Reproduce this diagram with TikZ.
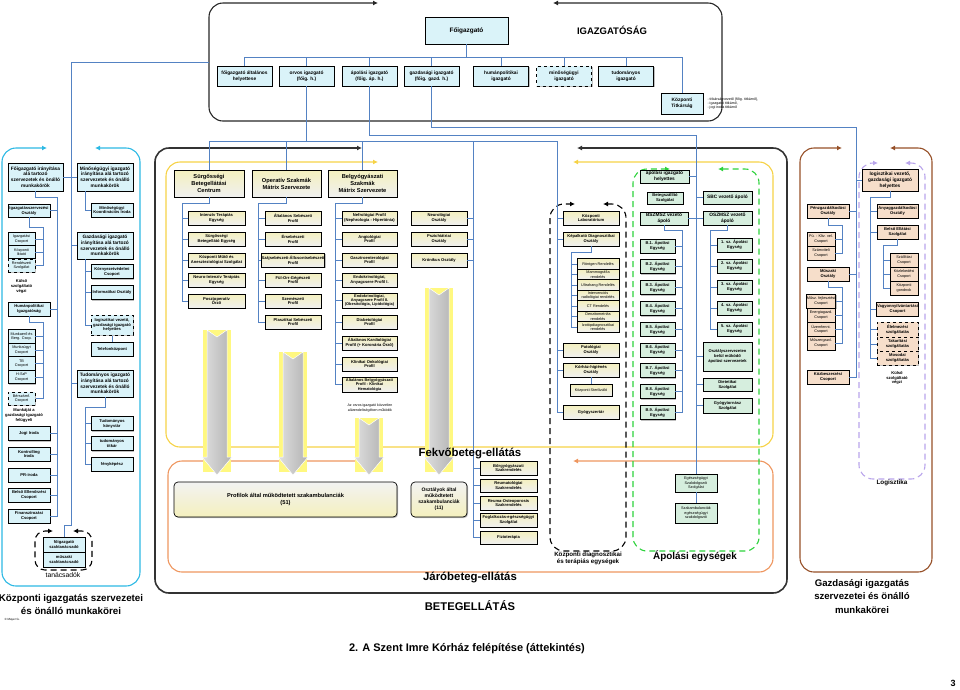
\documentclass[tikz,border=0pt]{standalone}
\usepackage{fontspec}
\setmainfont{Liberation Sans}
\usetikzlibrary{arrows.meta,shadows}

\definecolor{kek}{RGB}{84,130,195}
\definecolor{cian}{RGB}{45,185,228}
\definecolor{cianbel}{RGB}{218,243,249}
\definecolor{sarga}{RGB}{246,210,70}
\definecolor{sargabel}{RGB}{244,240,190}
\definecolor{narancs}{RGB}{238,150,95}
\definecolor{zold}{RGB}{45,210,60}
\definecolor{zoldbel}{RGB}{214,238,222}
\definecolor{barna}{RGB}{150,80,40}
\definecolor{barack}{RGB}{246,222,202}
\definecolor{lila}{RGB}{185,165,235}

\tikzset{
  doboz/.style={draw=black, line width=.7pt, align=center, inner sep=.3pt,
    drop shadow={shadow xshift=1.1pt, shadow yshift=-1.1pt, fill=black!50}},
  kdoboz/.style={doboz, fill=cianbel},
  sdoboz/.style={doboz, top color=sargabel, bottom color=gray!12},
  fdoboz/.style={doboz, top color=gray!10, bottom color=sargabel, rounded corners=4pt},
  zdoboz/.style={doboz, fill=zoldbel},
  gdoboz/.style={doboz, fill=barack},
  meret/.style 2 args={minimum width=#1pt, minimum height=#2pt},
  kisbetu/.style={font=\fontsize{4.1}{4.9}\selectfont\bfseries},
  halvany/.style={font=\fontsize{3.8}{4.4}\selectfont},
  kozepbetu/.style={font=\fontsize{4.8}{5.8}\selectfont\bfseries},
  nagybetu/.style={font=\fontsize{5.7}{6.9}\selectfont\bfseries},
  sor/.style={kdoboz, meret={55}{20}, kozepbetu},
  vonal/.style={draw=kek, line width=.9pt},
  keret/.style={rounded corners=14pt, line width=1.1pt,
    arrows={Latex[length=5pt,width=5pt]-Latex[length=5pt,width=5pt]}},
  cim/.style={align=center}
}

\begin{document}
\begin{tikzpicture}[x=1pt,y=-1pt]
\useasboundingbox (0,0) rectangle (960,689);

% keretek
\draw[keret, draw=black!85] (553,3) -- (722,3) -- (722,121) -- (209,121) -- (209,3) -- (378,3);
\draw[keret, draw=cian] (95,148) -- (140,148) -- (140,586) -- (2,586) -- (2,148) -- (47,148);
\draw[keret, draw=black!80, line width=1.6pt] (577,148) -- (787,148) -- (787,593) -- (155,593) -- (155,148) -- (362,148);
\draw[keret, draw=sarga] (573,162) -- (773,162) -- (773,447) -- (166,447) -- (166,162) -- (378,162);
\draw[keret, draw=narancs] (573,461) -- (773,461) -- (773,572) -- (168,572) -- (168,461) -- (365,461);
\draw[keret, draw=zold, dash pattern=on 6pt off 4pt] (718,169) -- (759,169) -- (759,551) -- (633,551) -- (633,169) -- (670,169);
\draw[keret, draw=black, dash pattern=on 6pt off 4pt] (603,204) -- (626,204) -- (626,551) -- (550,551) -- (550,204) -- (575,204);
\draw[keret, draw=barna] (890,148) -- (932,148) -- (932,572) -- (800,572) -- (800,148) -- (842,148);
\draw[keret, draw=lila, dash pattern=on 6pt off 4pt] (905,163) -- (925,163) -- (925,479) -- (859,479) -- (859,163) -- (878,163);
\draw[keret, draw=black, dash pattern=on 6pt off 4pt, rounded corners=10pt] (73,531) -- (92,531) -- (92,570) -- (35,570) -- (35,531) -- (53,531);

% nagy szurke nyilak
\foreach \x/\t in {217/330, 293/352, 369/418, 439/288} {
  \fill[yellow!50] (\x-14,\t) rectangle (\x+14,472);
  \draw[white, line width=.5pt, left color=gray!25, right color=gray!60]
    (\x-10,\t) -- (\x,\t+7) -- (\x+10,\t) -- (\x+10,457) -- (\x+15,457)
    -- (\x,475) -- (\x-15,457) -- (\x-10,457) -- cycle;
}

% igazgatosag
\node[kdoboz, meret={83}{27}, font=\fontsize{6.4}{7.5}\selectfont\bfseries] (foig) at (466.5,30.5) {Főigazgató};
\node[font=\fontsize{9.5}{11}\selectfont\bfseries] (igazg) at (612,30) {IGAZGATÓSÁG};
\node[sor] (ig1) at (244.5,76) {főigazgató általános\\helyettese};
\node[sor] (ig2) at (306.5,76) {orvos igazgató\\(főig. h.)};
\node[sor] (ig3) at (369.5,76) {ápolási igazgató\\(főig. áp. h.)};
\node[sor] (ig4) at (431.5,76) {gazdasági igazgató\\(főig. gazd. h.)};
\node[sor] (ig5) at (501,76) {humánpolitikai\\igazgató};
\node[sor, dashed, line width=1pt] (ig6) at (564,76) {minőségügyi\\igazgató};
\node[sor] (ig7) at (626,76) {tudományos\\igazgató};
\node[kdoboz, meret={42}{21}, kozepbetu] (titk) at (682,103.5) {Központi\\Titkárság};
\node[anchor=west, align=left, font=\fontsize{3.6}{4.3}\selectfont] (titkm) at (704,103.5)
  {- titkárságvezető (főig. titkárnő),\\- igazgatói titkárnő,\\- jogi iroda titkárnő};

% kozponti igazgatas
\node[kdoboz, meret={55}{28}, kozepbetu] (fo) at (35.5,177) {Főigazgató irányítása\\alá tartozó\\szervezetek és önálló\\munkakörök};
\node[kdoboz, meret={56}{28}, kozepbetu] (min) at (105,177) {Minőségügyi igazgató\\irányítása alá tartozó\\szervezetek és önálló\\munkakörök};
\node[kdoboz, meret={42}{14}, kisbetu] (mki) at (112,210) {Minőségügyi\\Koordinációs Iroda};
\node[kdoboz, meret={42}{13}, kisbetu] (isz) at (29,210.5) {Igazgatásszervezési\\Osztály};
\node[kdoboz, meret={27}{13}, halvany] (igcs) at (21.5,239) {Igazgatási\\Csoport};
\node[kdoboz, meret={27}{13}, halvany] (ikt) at (21.5,252) {Központi\\Iktató};
\node[kdoboz, meret={27}{13}, halvany, dashed, line width=1pt] (rend) at (21.5,265.5) {Rendészeti\\Szolgálat};
\node[cim, kisbetu] (kulso1) at (21.5,286.5) {Külső\\szolgáltató\\végzi};
\node[kdoboz, meret={42}{14}, kisbetu] (hum) at (29,309) {Humánpolitikai\\Igazgatóság};
\node[kdoboz, meret={27}{13.5}, halvany] (mbcs) at (21.5,336.5) {Munkaerő és\\Berg. Csop.};
\node[kdoboz, meret={27}{13.5}, halvany] (mucs) at (21.5,350) {Munkaügyi\\Csoport};
\node[kdoboz, meret={27}{13.5}, halvany] (tbcs) at (21.5,363.5) {TB\\Csoport};
\node[kdoboz, meret={27}{13.5}, halvany] (hszp) at (21.5,377) {H-SzP\\Csoport};
\node[kdoboz, meret={27}{13}, halvany, dashed, line width=1pt] (berc) at (21.5,398.5) {Bérszámf.\\Csoport};
\node[cim, kisbetu] (munk) at (24,415.5) {Munkáját a\\gazdasági igazgató\\felügyeli};
\node[kdoboz, meret={42}{14}, kisbetu] (jogi) at (29,433.5) {Jogi Iroda};
\node[kdoboz, meret={42}{14}, kisbetu] (kontr) at (29,454) {Kontrolling\\Iroda};
\node[kdoboz, meret={42}{14}, kisbetu] (pr) at (29,475) {PR-iroda};
\node[kdoboz, meret={42}{14}, kisbetu] (bell) at (29,495) {Belső Ellenőrzési\\Csoport};
\node[kdoboz, meret={42}{14}, kisbetu] (fin) at (29,516) {Finanszírozási\\Csoport};
\node[kdoboz, meret={56}{27}, kozepbetu] (gazd) at (105,245.5) {Gazdasági igazgató\\irányítása alá tartozó\\szervezetek és önálló\\munkakörök};
\node[kdoboz, meret={42}{14}, kisbetu] (korny) at (112,271.5) {Környezetvédelmi\\Csoport};
\node[kdoboz, meret={42}{14}, kisbetu] (info) at (112,292.5) {Informatikai Osztály};
\node[kdoboz, meret={42}{20}, kisbetu, dashed, line width=1pt] (logh) at (112,325) {logisztikai vezető,\\gazdasági igazgató\\helyettes};
\node[kdoboz, meret={42}{14}, kisbetu] (tel) at (112,349) {Telefonközpont};
\node[kdoboz, meret={56}{27}, kozepbetu] (tud) at (105,383.5) {Tudományos igazgató\\irányítása alá tartozó\\szervezetek és önálló\\munkakörök};
\node[kdoboz, meret={42}{14}, kisbetu] (tkonyv) at (112,423.5) {Tudományos\\könyvtár};
\node[kdoboz, meret={42}{14}, kisbetu] (ttitk) at (112,443.5) {tudományos\\titkár};
\node[kdoboz, meret={42}{14}, kisbetu] (feny) at (112,464) {fényképész};
\node[kdoboz, meret={42}{15}, kisbetu] (fszt) at (64,544.5) {főigazgató\\szaktanácsadó};
\node[kdoboz, meret={42}{15}, kisbetu] (mszt) at (64,559.5) {műszaki\\szaktanácsadó};

% fekvobeteg-ellatas
\node[sdoboz, meret={70}{27}, nagybetu] (sbc) at (209,183.5) {Sürgősségi\\Betegellátási\\Centrum};
\node[sdoboz, meret={69}{27}, nagybetu] (ops) at (286.5,183.5) {Operatív Szakmák\\Mátrix Szervezete};
\node[sdoboz, meret={69}{27}, nagybetu] (belgy) at (362.5,183.5) {Belgyógyászati\\Szakmák\\Mátrix Szervezete};
\node[sdoboz, meret={57}{14}, kisbetu] (s1) at (216.5,218) {Intenzív Terápiás\\Egység};
\node[sdoboz, meret={57}{14}, kisbetu] (s2) at (216.5,239) {Sürgősségi\\Betegellátó Egység};
\node[sdoboz, meret={57}{14}, kisbetu] (s3) at (216.5,260) {Központi Műtő és\\Aneszteziológiai Szolgálat};
\node[sdoboz, meret={57}{14}, kisbetu] (s4) at (216.5,280) {Neuro-Intenzív Terápiás\\Egység};
\node[sdoboz, meret={57}{14}, kisbetu] (s5) at (216.5,301) {Posztoperatív\\Őrző};
\node[sdoboz, meret={56}{14}, kisbetu] (p1) at (293,218) {Általános Sebészeti\\Profil};
\node[sdoboz, meret={56}{14}, kisbetu] (p2) at (293,239) {Érsebészeti\\Profil};
\node[sdoboz, meret={56}{14}, kisbetu] (p3) at (293,260) {Szájsebészeti-Állcsontsebészeti\\Profil};
\node[sdoboz, meret={56}{14}, kisbetu] (p4) at (293,280) {Fül-Orr-Gégészeti\\Profil};
\node[sdoboz, meret={56}{14}, kisbetu] (p5) at (293,301) {Szemészeti\\Profil};
\node[sdoboz, meret={56}{14}, kisbetu] (p6) at (293,322) {Plasztikai Sebészeti\\Profil};
\node[sdoboz, meret={55}{14}, kisbetu] (bg1) at (369.5,218) {Nefrológiai Profil\\(Nephrologia - Hipertónia)};
\node[sdoboz, meret={55}{14}, kisbetu] (bg2) at (369.5,239) {Angiológiai\\Profil};
\node[sdoboz, meret={55}{14}, kisbetu] (bg3) at (369.5,260) {Gasztroenterológiai\\Profil};
\node[sdoboz, meret={55}{14}, kisbetu] (bg4) at (369.5,280) {Endokrinológiai,\\Anyagcsere Profil I.};
\node[sdoboz, meret={55}{15}, font=\fontsize{3.9}{4.4}\selectfont\bfseries] (bg5) at (369.5,300.5) {Endokrinológiai,\\Anyagcsere Profil II.\\(Obesitológia, Lipidológia)};
\node[sdoboz, meret={55}{14}, kisbetu] (bg6) at (369.5,322) {Diabetológiai\\Profil};
\node[sdoboz, meret={55}{14}, kisbetu] (bg7) at (369.5,343) {Általános Kardiológiai\\Profil (+ Koronária Őrző)};
\node[sdoboz, meret={55}{14}, kisbetu] (bg8) at (369.5,364) {Klinikai Onkológiai\\Profil};
\node[sdoboz, meret={55}{15}, font=\fontsize{3.9}{4.4}\selectfont\bfseries] (bg9) at (369.5,384.5) {Általános Belgyógyászati\\Profil - Klinikai\\Hematológia};
\node[cim, font=\fontsize{3.6}{4.4}\selectfont] (orvm) at (370,408) {Az orvos igazgató közvetlen\\alárendeltségében működik};
\node[sdoboz, meret={56}{14}, kisbetu] (neu1) at (439,218) {Neurológiai\\Osztály};
\node[sdoboz, meret={56}{14}, kisbetu] (neu2) at (439,239) {Pszichiátriai\\Osztály};
\node[sdoboz, meret={56}{14}, kisbetu] (neu3) at (439,260) {Krónikus Osztály};

% jarobeteg-ellatas
\node[fdoboz, meret={223}{35}, nagybetu] (prof) at (285.5,499.5) {Profilok által működtetett szakambulanciák\\(51)};
\node[fdoboz, meret={56}{35}, font=\fontsize{5}{6}\selectfont\bfseries] (oszta) at (439,499.5) {Osztályok által\\működtetett\\szakambulanciák\\(11)};
\node[sdoboz, meret={57}{14}, kisbetu] (jaro1) at (508.5,468) {Bőrgyógyászati\\Szakrendelés};
\node[sdoboz, meret={57}{13}, kisbetu] (jaro2) at (508.5,485.5) {Reumatológiai\\Szakrendelés};
\node[sdoboz, meret={57}{14}, kisbetu] (jaro3) at (508.5,503) {Reuma-Osteoporosis\\Szakrendelés};
\node[sdoboz, meret={57}{14}, kisbetu] (jaro4) at (508.5,520) {Foglalkozás-egészségügyi\\Szolgálat};
\node[sdoboz, meret={57}{13}, kisbetu] (jaro5) at (508.5,537.5) {Fizioterápia};

% diagnosztika
\node[sdoboz, meret={56}{14}, kisbetu] (klab) at (591,218) {Központi\\Laboratórium};
\node[sdoboz, meret={56}{14}, kisbetu] (kepalk) at (591,239) {Képalkotó Diagnosztikai\\Osztály};
\node[sdoboz, meret={42}{10.5}, halvany] (r1) at (598,264) {Röntgen Rendelés};
\node[sdoboz, meret={42}{10.5}, halvany] (r2) at (598,274.5) {Mammográfia\\rendelés};
\node[sdoboz, meret={42}{10.5}, halvany] (r3) at (598,285) {Ultrahang Rendelés};
\node[sdoboz, meret={42}{10.5}, halvany] (r4) at (598,295.5) {Intervenciós\\radiológiai rendelés};
\node[sdoboz, meret={42}{10.5}, halvany] (r5) at (598,306) {CT Rendelés};
\node[sdoboz, meret={42}{10.5}, halvany] (r6) at (598,316.5) {Denzitometriás\\rendelés};
\node[sdoboz, meret={42}{10.5}, halvany] (r7) at (598,327) {Izotópdiagnosztikai\\rendelés};
\node[sdoboz, meret={56}{14}, kisbetu] (pat) at (591,350) {Patológiai\\Osztály};
\node[sdoboz, meret={56}{14}, kisbetu] (korh) at (591,370) {Kórház-higiénés\\Osztály};
\node[sdoboz, meret={42}{12}, halvany] (steril) at (591,390) {Központi Sterilizáló};
\node[sdoboz, meret={56}{14}, kisbetu] (gysz) at (591,412) {Gyógyszertár};

% apolas
\node[zdoboz, meret={49}{13}, kozepbetu] (aih) at (664.5,176.5) {ápolási igazgató\\helyettes};
\node[zdoboz, meret={36}{12}, kisbetu] (betsz) at (665,198) {Betegszállító\\Szolgálat};
\node[zdoboz, meret={48}{13}, kozepbetu] (bszmsz) at (664,218.5) {BSZMSZ vezető\\ápoló};
\foreach \i in {1,...,9}
  \node[zdoboz, meret={35}{14}, kisbetu] (b\i) at (657.5,{225.2+20.8*\i}) {B.\i. Ápolási\\Egység};
\node[zdoboz, meret={49}{13}, kozepbetu] (sbcv) at (727.5,197.5) {SBC vezető ápoló};
\node[zdoboz, meret={49}{14}, kozepbetu] (oszmsz) at (727.5,218) {OSZMSZ vezető\\ápoló};
\foreach \i in {1,...,5}
  \node[zdoboz, meret={35}{14}, kisbetu] (o\i) at (734.5,{224+21*\i}) {\i. sz. Ápolási\\Egység};
\node[zdoboz, meret={49}{29}, kisbetu] (oszt) at (727.5,356.5) {Osztályszervezeten\\belül működő\\ápolási szervezetek};
\node[zdoboz, meret={49}{13}, kisbetu] (diet) at (727.5,384.5) {Dietetikai\\Szolgálat};
\node[zdoboz, meret={49}{15}, kisbetu] (gyt) at (727.5,405.5) {Gyógytornász\\Szolgálat};
\node[zdoboz, meret={42}{18}, halvany] (eszsz) at (696,483) {Egészségügyi\\Szakdolgozói\\Szolgálat};
\node[zdoboz, meret={42}{20}, halvany] (szamb) at (696,513) {Szakambulanciák\\egészségügyi\\szakdolgozói};

% gazdasagi igazgatas
\node[gdoboz, meret={56}{22}, kozepbetu] (logv) at (890,180) {logisztikai vezető,\\gazdasági igazgató\\helyettes};
\node[gdoboz, meret={42}{14}, kisbetu] (penz) at (828,211) {Pénzgazdálkodási\\Osztály};
\node[gdoboz, meret={28}{14}, halvany] (pu) at (821,239) {Pü. - Kltv. vel.\\Csoport};
\node[gdoboz, meret={28}{14}, halvany] (szamv) at (821,253) {Számviteli\\Csoport};
\node[gdoboz, meret={42}{14}, kisbetu] (musz) at (828,274) {Műszaki\\Osztály};
\node[gdoboz, meret={28}{14}, halvany] (m1) at (821,301) {Műsz. fejlesztési\\Csoport};
\node[gdoboz, meret={28}{14}, halvany] (m2) at (821,315) {Energiagazd.\\Csoport};
\node[gdoboz, meret={28}{14}, halvany] (m3) at (821,329) {Üzemfennt.\\Csoport};
\node[gdoboz, meret={28}{14}, halvany] (m4) at (821,343) {Műszergazd.\\Csoport};
\node[gdoboz, meret={42}{14}, kisbetu] (kozb) at (828,377) {Közbeszerzési\\Csoport};
\node[gdoboz, meret={41}{14}, kisbetu] (anyag) at (897.5,211) {Anyaggazdálkodási\\Osztály};
\node[gdoboz, meret={41}{14}, kisbetu] (belso) at (897.5,232) {Belső Ellátási\\Szolgálat};
\node[gdoboz, meret={28}{14}, halvany] (szall) at (904,260) {Szállítási\\Csoport};
\node[gdoboz, meret={28}{14}, halvany] (kozl) at (904,274) {Közlekedési\\Csoport};
\node[gdoboz, meret={28}{14}, halvany] (kgond) at (904,288) {Központi\\gondnok};
\node[gdoboz, meret={41}{14}, kisbetu] (vagyon) at (897.5,309) {Vagyonnyilvántartási\\Csoport};
\node[gdoboz, meret={41}{15}, kisbetu, dashed, line width=1pt] (elel) at (897.5,329.5) {Élelmezési\\szolgáltatás};
\node[gdoboz, meret={41}{14}, kisbetu, dashed, line width=1pt] (tak) at (897.5,344) {Takarítási\\szolgáltatás};
\node[gdoboz, meret={41}{14}, kisbetu, dashed, line width=1pt] (mos) at (897.5,358) {Mosodai\\szolgáltatás};
\node[cim, kisbetu] (kulso2) at (897,378) {Külső\\szolgáltató\\végzi};

% osszekotesek: igazgatosag
\coordinate (tb1) at (244.5,57);
\coordinate (tb2) at (682,57);
\draw[vonal] (foig.south) -- (foig.south |- tb1);
\draw[vonal] (tb1) -- (tb2) -- (titk.north);
\foreach \i in {1,...,7} \draw[vonal] (ig\i.north) -- (ig\i.north |- tb1);

% orvos igazgato
\coordinate (ov1) at (209,141);
\coordinate (ov2) at (557,141);
\coordinate (nb) at (473,141);
\draw[vonal] (ig2.south) -- (ig2.south |- ov1);
\draw[vonal] (ov1) -- (ov2);
\draw[vonal] (ov1) -- (sbc.north);
\draw[vonal] (ops.north |- ov1) -- (ops.north);
\draw[vonal] (belgy.north |- ov1) -- (belgy.north);
\draw[vonal] (nb) |- (jaro5.west);
\foreach \n in {neu1,neu2,neu3} \draw[vonal] (\n.east) -- (\n.east -| nb);
\foreach \n in {jaro1,jaro2,jaro3,jaro4} \draw[vonal] (\n.west) -- (\n.west -| nb);
\draw[vonal] (ov2) |- (gysz.west);
\foreach \n in {klab,kepalk,pat,korh} \draw[vonal] (\n.west) -- (\n.west -| ov2);
\coordinate (sb) at (182,203);
\draw[vonal] (sbc.south) |- (sb) |- (s5.west);
\foreach \i in {1,...,4} \draw[vonal] (s\i.west) -- (s\i.west -| sb);
\coordinate (pb) at (258,203);
\draw[vonal] (ops.south) |- (pb) |- (p6.west);
\foreach \i in {1,...,5} \draw[vonal] (p\i.west) -- (p\i.west -| pb);
\coordinate (bgb) at (335,203);
\draw[vonal] (belgy.south) |- (bgb) |- (bg9.west);
\foreach \i in {1,...,8} \draw[vonal] (bg\i.west) -- (bg\i.west -| bgb);
\coordinate (kb) at (571,252);
\draw[vonal] (kepalk.south) |- (kb) |- (r7.west);
\foreach \i in {1,...,6} \draw[vonal] (r\i.west) -- (r\i.west -| kb);
\draw[vonal] (korh.south) -- (steril.north);

% apolasi igazgato
\coordinate (ap1) at (369.5,135);
\coordinate (ap2) at (696,135);
\draw[vonal] (ig3.south) -- (ap1) -- (ap2) -- (eszsz.north);
\draw[vonal] (eszsz.south) -- (szamb.north);
\foreach \n in {aih,bszmsz} \draw[vonal] (\n.east) -- (\n.east -| ap2);
\foreach \n in {sbcv,oszmsz,oszt,diet,gyt} \draw[vonal] (\n.west) -- (\n.west -| ap2);
\coordinate (bb) at (682,230);
\draw[vonal] (bszmsz.south) |- (bb) |- (b9.east);
\foreach \i in {1,...,8} \draw[vonal] (b\i.east) -- (b\i.east -| bb);
\coordinate (ob) at (710,230);
\draw[vonal] (oszmsz.south) |- (ob) |- (o5.west);
\foreach \i in {1,...,4} \draw[vonal] (o\i.west) -- (o\i.west -| ob);

% gazdasagi igazgato
\coordinate (ga1) at (431.5,127);
\coordinate (ga2) at (856,127);
\draw[vonal] (ig4.south) -- (ga1) -- (ga2) |- (kozb.east);
\draw[vonal] (logv.west) -- (logv.west -| ga2);
\foreach \n in {penz,musz} \draw[vonal] (\n.east) -- (\n.east -| ga2);
\coordinate (pzb) at (842,225);
\draw[vonal] (penz.south) |- (pzb) |- (szamv.east);
\draw[vonal] (pu.east) -- (pu.east -| pzb);
\coordinate (msb) at (842,287);
\draw[vonal] (musz.south) |- (msb) |- (m4.east);
\foreach \i in {1,...,3} \draw[vonal] (m\i.east) -- (m\i.east -| msb);
\coordinate (lb) at (870,197);
\draw[vonal] (logv.south) |- (lb) |- (mos.west);
\foreach \n in {anyag,belso,vagyon,elel,tak} \draw[vonal] (\n.west) -- (\n.west -| lb);
\coordinate (bsb) at (883,245);
\draw[vonal] (belso.south) |- (bsb) |- (kgond.west);
\foreach \n in {szall,kozl} \draw[vonal] (\n.west) -- (\n.west -| bsb);

% kozponti igazgatas
\coordinate (igb) at (209,62);
\coordinate (bal) at (71,177);
\coordinate (bal2) at (71,525);
\draw[vonal] (igb) -| (bal);
\draw[vonal] (fo.east) -- (min.west);
\draw[vonal] (bal) |- (gazd.west);
\draw[vonal] (bal) |- (tud.west);
\draw[vonal] (bal) -- (bal2) -| (fszt.north);
\coordinate (fb) at (57,197);
\draw[vonal] (fo.south) |- (fb) |- (fin.east);
\foreach \n in {isz,hum,jogi,kontr,pr,bell} \draw[vonal] (\n.east) -- (\n.east -| fb);
\coordinate (ib) at (43,227);
\draw[vonal] (isz.south) |- (ib) |- (rend.east);
\foreach \n in {igcs,ikt} \draw[vonal] (\n.east) -- (\n.east -| ib);
\coordinate (hb) at (43,322);
\draw[vonal] (hum.south) |- (hb) |- (berc.east);
\foreach \n in {mbcs,mucs,tbcs,hszp} \draw[vonal] (\n.east) -- (\n.east -| hb);
\coordinate (mb) at (85,210);
\draw[vonal] (min.south -| mb) |- (mki.west);
\coordinate (gb) at (85,260);
\draw[vonal] (gazd.south -| gb) |- (logh.west);
\foreach \n in {korny,info} \draw[vonal] (\n.west) -- (\n.west -| gb);
\draw[vonal] (logh.south) -- (tel.north);
\coordinate (tdb) at (85,407);
\draw[vonal] (tud.south) |- (tdb) |- (feny.west);
\foreach \n in {tkonyv,ttitk} \draw[vonal] (\n.west) -- (\n.west -| tdb);

% feliratok
\node[cim, font=\fontsize{9.8}{13}\selectfont\bfseries] (kozpc) at (71,604.5) {Központi igazgatás szervezetei\\és önálló munkakörei};
\node[font=\fontsize{6.8}{8}\selectfont] (tanc) at (63,575) {tanácsadók};
\node[font=\fontsize{3}{3.6}\selectfont, anchor=west] (copy) at (1,620) {© Mayer G.};
\node[font=\fontsize{11.4}{14}\selectfont\bfseries] (fekv) at (470,454) {Fekvőbeteg-ellátás};
\node[font=\fontsize{11.4}{14}\selectfont\bfseries] (jaro) at (470,578) {Járóbeteg-ellátás};
\node[font=\fontsize{11.2}{13}\selectfont\bfseries] (betegl) at (470,606) {BETEGELLÁTÁS};
\node[cim, font=\fontsize{6.2}{7.5}\selectfont\bfseries] (diagc) at (588,558.5) {Központi diagnosztikai\\és terápiás egységek};
\node[font=\fontsize{9.9}{12}\selectfont\bfseries] (apc) at (695,556) {Ápolási egységek};
\node[font=\fontsize{6.3}{7.5}\selectfont\bfseries] (logc) at (892,483) {Logisztika};
\node[cim, font=\fontsize{9.6}{13.5}\selectfont\bfseries] (gazdc) at (862,596.5) {Gazdasági igazgatás\\szervezetei és önálló\\munkakörei};
\node[font=\fontsize{11}{13}\selectfont\bfseries] (abra) at (467,649) {2. A Szent Imre Kórház felépítése (áttekintés)};
\node[font=\fontsize{9}{11}\selectfont\bfseries] (lap) at (953,683) {3};
\end{tikzpicture}
\end{document}
